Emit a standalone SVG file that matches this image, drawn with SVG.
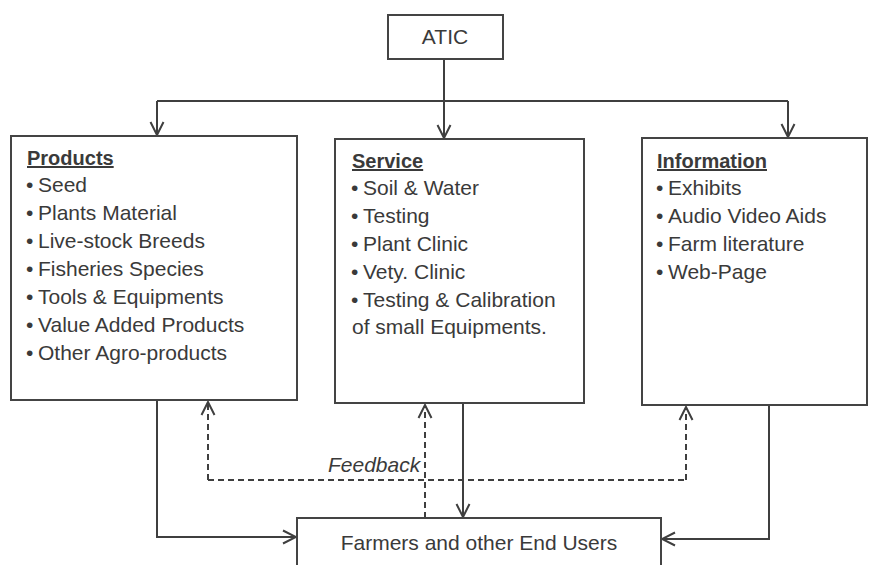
<svg xmlns="http://www.w3.org/2000/svg" width="881" height="565" viewBox="0 0 881 565">
<defs>
<marker id="arr" markerUnits="userSpaceOnUse" viewBox="-15 -8 17 16" markerWidth="17" markerHeight="16" refX="0" refY="0" orient="auto">
<path d="M-13,-6.5 L0,0 L-13,6.5" fill="none" stroke="#3f3f3f" stroke-width="2"/>
</marker>
</defs>
<style>
.box{fill:#fff;stroke:#444;stroke-width:2}
.t{font-family:"Liberation Sans",Arial,sans-serif;font-size:21px;fill:#3a3a3a}
.h{font-weight:bold;text-decoration:underline;font-size:20px}
.ln{fill:none;stroke:#3f3f3f;stroke-width:2}
.ds{fill:none;stroke:#3f3f3f;stroke-width:2;stroke-dasharray:6 4}
</style>
<rect width="881" height="565" fill="#fff"/>
<g id="connectors">
<path class="ln" d="M444,59 V138" marker-end="url(#arr)"/>
<path class="ln" d="M157,101 H788"/>
<path class="ln" d="M157,101 V135" marker-end="url(#arr)"/>
<path class="ln" d="M788,101 V137" marker-end="url(#arr)"/>
<path class="ln" d="M157,400 V537 H296" marker-end="url(#arr)"/>
<path class="ln" d="M463,403 V517" marker-end="url(#arr)"/>
<path class="ln" d="M769,405 V539 H662" marker-end="url(#arr)"/>
<path class="ds" d="M425,518 V405" marker-end="url(#arr)"/>
<path class="ds" d="M208,480 H686"/>
<path class="ds" d="M208,480 V402" marker-end="url(#arr)"/>
<path class="ds" d="M686,480 V407" marker-end="url(#arr)"/>
<text class="t" x="328" y="472" font-style="italic" font-size="19.5">Feedback</text>
</g>
<g id="atic">
<rect class="box" x="388" y="15" width="115" height="44"/>
<text class="t" x="445" y="44" text-anchor="middle" font-size="19">ATIC</text>
</g>
<g id="products">
<rect class="box" x="11" y="136" width="286" height="264"/>
<text class="t h" x="27" y="165">Products</text>
<text class="t" y="192"><tspan x="26">•</tspan><tspan x="38">Seed</tspan></text>
<text class="t" y="220"><tspan x="26">•</tspan><tspan x="38">Plants Material</tspan></text>
<text class="t" y="248"><tspan x="26">•</tspan><tspan x="38">Live-stock Breeds</tspan></text>
<text class="t" y="276"><tspan x="26">•</tspan><tspan x="38">Fisheries Species</tspan></text>
<text class="t" y="304"><tspan x="26">•</tspan><tspan x="38">Tools &amp; Equipments</tspan></text>
<text class="t" y="332"><tspan x="26">•</tspan><tspan x="38">Value Added Products</tspan></text>
<text class="t" y="360"><tspan x="26">•</tspan><tspan x="38">Other Agro-products</tspan></text>
</g>
<g id="service">
<rect class="box" x="335" y="139" width="249" height="264"/>
<text class="t h" x="352" y="168">Service</text>
<text class="t" y="195"><tspan x="351">•</tspan><tspan x="363">Soil &amp; Water</tspan></text>
<text class="t" y="223"><tspan x="351">•</tspan><tspan x="363">Testing</tspan></text>
<text class="t" y="251"><tspan x="351">•</tspan><tspan x="363">Plant Clinic</tspan></text>
<text class="t" y="279"><tspan x="351">•</tspan><tspan x="363">Vety. Clinic</tspan></text>
<text class="t" y="307"><tspan x="351">•</tspan><tspan x="363">Testing &amp; Calibration</tspan></text>
<text class="t" x="352" y="334">of small Equipments.</text>
</g>
<g id="information">
<rect class="box" x="642" y="138" width="225" height="267"/>
<text class="t h" x="657" y="168">Information</text>
<text class="t" y="195"><tspan x="656">•</tspan><tspan x="668">Exhibits</tspan></text>
<text class="t" y="223"><tspan x="656">•</tspan><tspan x="668">Audio Video Aids</tspan></text>
<text class="t" y="251"><tspan x="656">•</tspan><tspan x="668">Farm literature</tspan></text>
<text class="t" y="279"><tspan x="656">•</tspan><tspan x="668">Web-Page</tspan></text>
</g>
<g id="farmers">
<rect class="box" x="297" y="518" width="364" height="60"/>
<text class="t" x="479" y="550" text-anchor="middle">Farmers and other End Users</text>
</g>
</svg>
